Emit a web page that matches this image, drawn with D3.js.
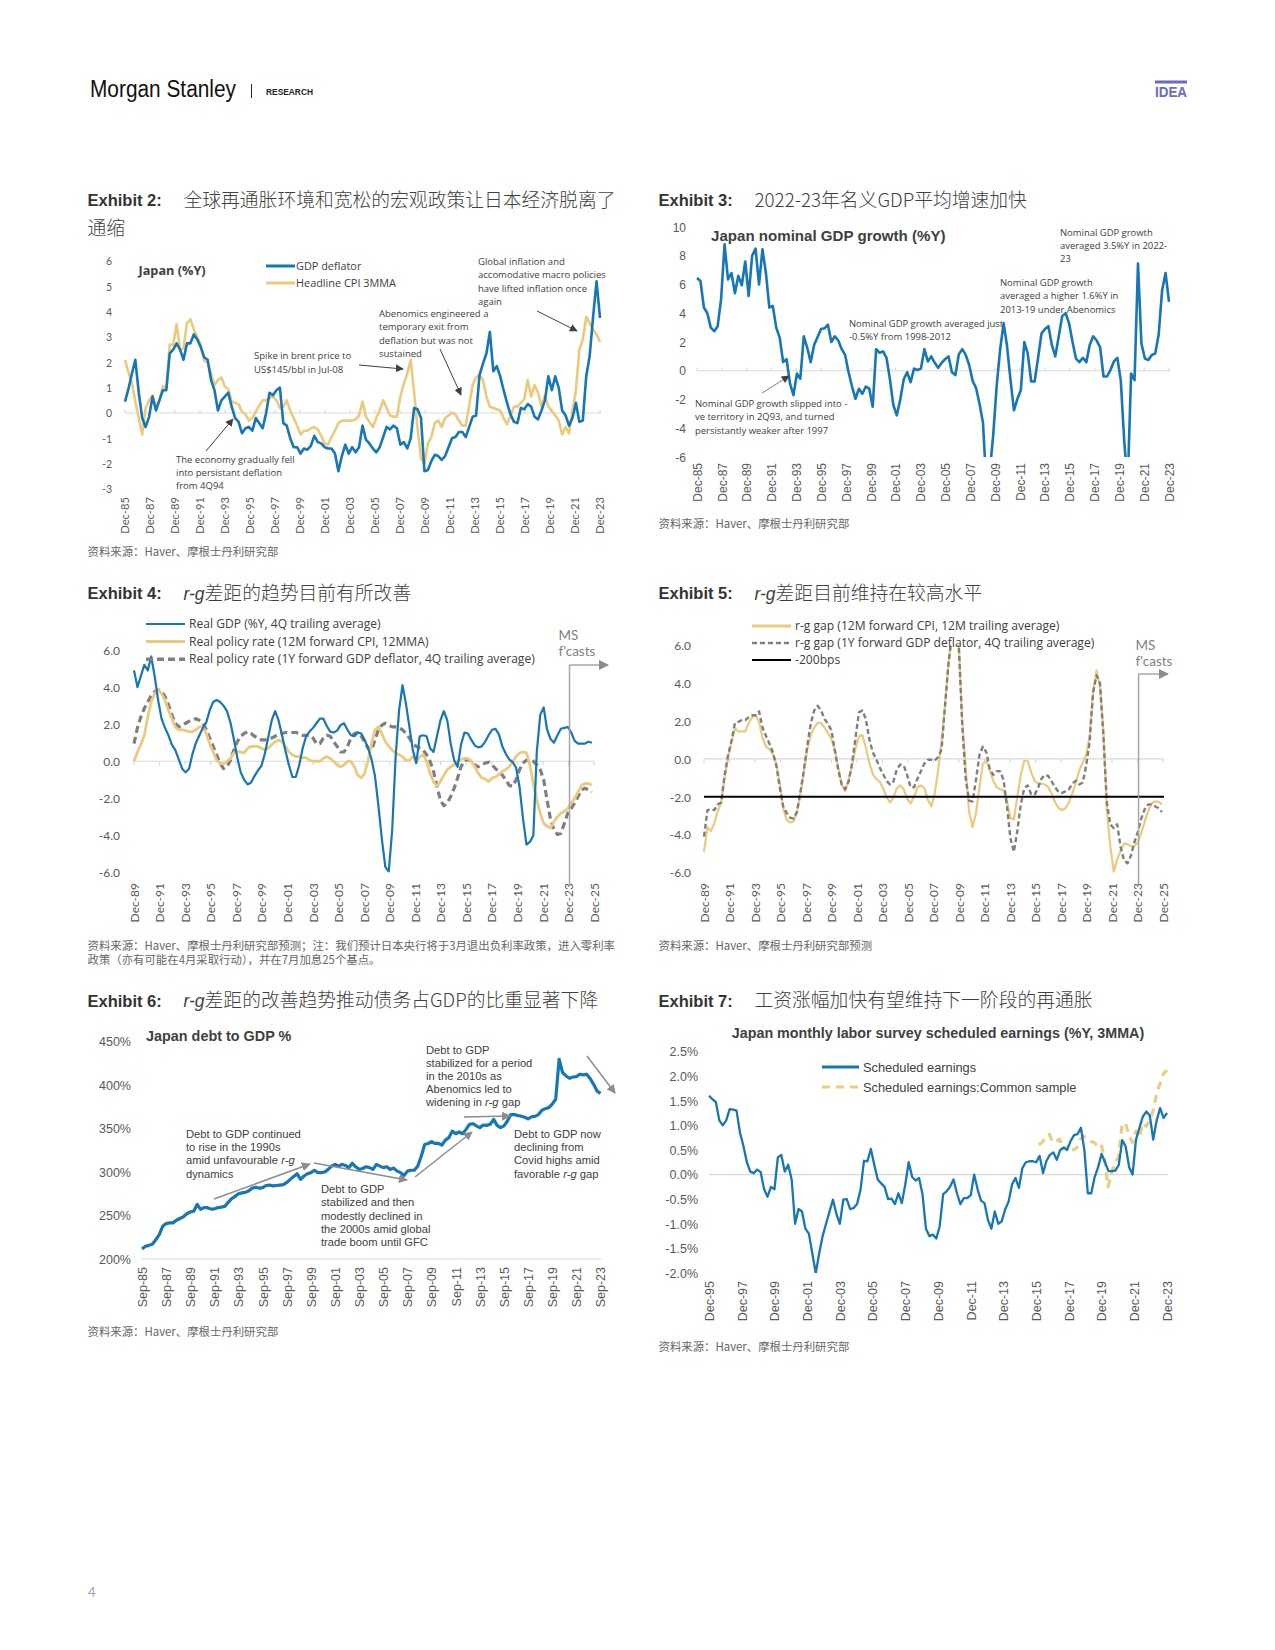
<!DOCTYPE html>
<html><head><meta charset="utf-8">
<script src="https://cdn.jsdelivr.net/npm/d3@7"></script>
<style>body{margin:0;background:#fff}svg{display:block}</style>
</head><body>
<svg id="page" width="1275" height="1650"></svg>
<script>
// ---------------- DATA ----------------
// Exhibit 2: GDP deflator (%Y) and headline CPI 3MMA (%Y), Dec-85 .. Dec-23
const ex2Start = "1985-12", ex2End = "2023-12";
const ex2Deflator = [0.45,0.95,1.55,2.1,0.8,-0.2,-0.55,-0.15,0.65,0.1,
0.5,0.9,0.9,2.35,2.5,2.75,2.5,2.1,2.75,2.75,
3.1,2.9,2.6,2.2,2.1,1.3,0.9,0.1,0.5,0.65,
0.8,0.25,-0.2,-0.35,-0.8,-0.6,-0.55,-0.7,-0.2,-0.4,
-0.6,0,0.8,0.7,0.9,1.0,-0.4,-0.5,-1.0,-1.35,
-1.35,-1.6,-1.4,-1.45,-1.3,-0.9,-1.15,-1.2,-1.35,-1.4,
-1.4,-1.6,-2.3,-1.7,-1.25,-1.6,-1.35,-1.55,-1.35,-0.5,
-1.05,-1.2,-1.4,-1.55,-1.35,-0.95,-0.55,-0.65,-0.5,-0.6,
-1.25,-1.15,-1.4,-1.0,0.2,0.15,-0.2,-2.3,-2.25,-1.9,
-1.65,-1.7,-1.85,-1.7,-1.35,-1.0,-0.95,-0.75,-0.75,-0.95,
-0.55,-0.15,-0.1,1.5,1.95,2.35,3.2,1.65,1.85,1.45,
0.9,0.4,-0.05,-0.35,-0.4,0.2,0.15,0.35,0.25,-0.15,
-0.25,0.1,0.5,1.45,0.9,1.45,1.0,0.1,-0.1,-0.5,
-0.2,0.4,-0.35,-0.3,1.45,2.25,3.8,5.2,3.75];
const ex2Cpi = [2.1,1.6,1.2,0.45,-0.2,-0.85,0.2,0.5,0.7,0.2,
0.5,1.05,1.0,2.7,2.7,3.5,2.5,2.55,3.55,3.7,
3.3,3.0,2.7,2.05,2.0,1.55,1.1,1.3,1.4,1.05,
0.95,0.45,0.4,0.35,0.05,-0.05,-0.3,-0.2,0.05,0.3,
0.5,0.5,0.6,0.65,0.5,0.2,0.25,0.5,0.1,-0.2,
-0.5,-0.85,-0.7,-0.7,-0.6,-0.55,-0.65,-0.9,-1.2,-1.25,
-0.95,-0.7,-0.4,-0.3,-0.3,-0.3,-0.3,-0.25,-0.1,0.45,
-0.15,-0.35,-0.55,-0.2,0.1,0.5,0.2,-0.1,-0.15,-0.15,
0.65,1.15,1.55,2.1,0.8,-0.6,-1.8,-2.0,-1.2,-0.95,
-0.4,-0.3,-0.55,-0.2,-0.1,0.0,-0.05,-0.3,-0.5,-0.5,
0.3,1.1,1.4,1.5,1.3,0.65,0.25,0.2,0.15,0.1,
-0.2,-0.45,-0.1,0.25,0.25,0.4,0.55,1.3,0.65,1.1,
0.8,0.25,0.7,0.25,0.1,-0.1,-0.3,-0.85,-0.55,-0.8,
0.1,0.9,2.5,2.9,3.8,3.55,3.3,3.1,2.8];
const ex2YTicks = [6,5,4,3,2,1,0,-1,-2,-3];
const ex2XTicks = ["Dec-85","Dec-87","Dec-89","Dec-91","Dec-93","Dec-95","Dec-97","Dec-99","Dec-01","Dec-03","Dec-05","Dec-07","Dec-09","Dec-11","Dec-13","Dec-15","Dec-17","Dec-19","Dec-21","Dec-23"];

// Exhibit 3: Japan nominal GDP growth (%Y)
const ex3Start = "1985-12", ex3End = "2023-12";
const ex3Ngdp = [6.45,6.25,4.4,4.0,3.0,2.75,3.1,5.0,8.8,6.35,
6.8,5.4,6.6,5.95,7.6,5.2,8.0,8.5,6.0,8.45,
6.8,4.4,4.5,3.0,2.3,0.6,0.8,-0.9,-1.7,-0.2,
-0.55,2.4,1.6,0.6,1.8,2.35,2.9,2.95,3.2,2.0,
2.4,2.1,1.5,1.1,-0.1,-1.1,-1.95,-1.25,-1.6,-1.1,
-1.25,-2.5,1.5,1.25,1.35,0.9,-0.6,-2.4,-3.1,-2.0,
-0.6,-0.1,-0.8,0.15,0.05,0.15,1.5,0.65,1.0,0.55,
0.2,0.55,0.8,1.0,-0.1,-0.3,1.15,1.5,1.1,0.4,
-0.7,-1.2,-2.3,-3.6,-8,-7,-4.4,-1.0,1.5,3.3,
1.7,-0.65,-2.75,-1.95,-1.35,2.0,1.2,-0.75,-0.75,0.9,
2.6,2.9,3.1,1.8,1.0,2.4,3.8,4.0,3.3,2.0,
0.85,0.6,0.9,0.6,1.8,2.4,2.1,1.65,-0.4,-0.4,
0.05,0.65,0.9,-0.65,-4.85,-8,-0.2,-0.65,7.45,1.9,
0.85,0.75,1.1,1.2,2.5,5.6,6.8,4.8];
const ex3YTicks = [10,8,6,4,2,0,-2,-4,-6];
const ex3XTicks = ex2XTicks;

// Exhibit 4: real GDP and real policy rates
const ex4Start = "1989-12", ex4End = "2025-10";
const ex4RealGdp = [4.9,4.0,4.6,5.2,4.9,5.65,4.6,3.3,2.3,1.8,
1.4,0.9,0.6,0.1,-0.4,-0.6,-0.4,0.4,1.0,1.4,
1.8,2.1,2.75,3.2,3.3,3.2,3.0,2.7,2.1,1.2,
0.2,-0.6,-1.0,-1.25,-1.15,-0.8,-0.5,-0.25,0.4,1.3,
2.2,2.7,2.2,1.4,0.55,-0.2,-0.85,-0.85,-0.2,0.7,
1.35,1.6,1.8,2.05,2.3,2.3,1.9,1.6,1.55,1.65,
1.95,2.05,1.7,1.4,1.35,1.55,1.5,1.15,0.7,0.1,
-0.8,-2.4,-4.2,-5.7,-5.95,-3.7,0.25,2.75,4.1,3.1,
1.85,0.6,-0.1,1.35,1.4,1.35,0.7,0.5,1.35,2.2,
2.7,2.2,0.95,0.05,-0.3,0.9,1.55,1.5,1.15,0.85,
0.75,0.8,1.05,1.4,1.7,1.75,1.45,0.8,0.4,0.1,
-0.05,-0.35,-1.4,-3.1,-4.5,-4.35,-4.0,0.5,2.5,2.9,
1.7,1.2,1.0,1.4,1.75,1.8,1.85,1.55,1.1,0.95,
0.95,0.95,1.05,1.0];
const ex4RateCpi = [0,0.5,0.9,1.4,2.4,3.2,3.65,3.85,3.65,3.3,
2.75,2.3,1.85,1.7,1.7,1.65,1.6,1.6,1.7,1.85,
1.85,1.5,0.95,0.5,0.05,-0.1,-0.15,0,0.15,0.45,
0.5,0.5,0.45,0.7,0.8,0.8,0.8,0.7,0.6,0.7,
0.9,1.05,1.15,1.05,0.8,0.5,0.35,0.25,0.25,0.2,
0.2,0.05,0,0,0,0.15,0.25,0.15,0,-0.2,
-0.3,-0.2,0,0,-0.3,-0.75,-0.9,-0.65,0.05,0.95,
1.7,1.85,1.5,1.05,0.8,0.6,0.45,0.35,0.25,0.05,
0.05,0.25,0,0.25,0.35,0,-0.65,-1.1,-1.35,-1.1,
-0.75,-0.45,-0.3,-0.2,0,0.1,0.15,0.15,0,-0.3,
-0.65,-0.9,-0.95,-1.1,-0.9,-0.85,-0.7,-0.55,-0.45,-0.3,
0,0.25,0.45,0.5,0.45,-0.2,-1.2,-2.1,-2.8,-3.35,
-3.5,-3.6,-3.25,-3.0,-2.8,-2.7,-2.55,-2.25,-2.0,-1.65,
-1.3,-1.2,-1.2,-1.3];
const ex4RateDefl = [0.95,1.8,2.4,2.85,3.2,3.55,3.75,3.85,3.75,3.5,
3.05,2.5,2.05,1.85,1.95,2.05,2.15,2.2,2.3,2.2,
2.05,1.7,1.25,0.8,0.35,-0.1,-0.4,-0.3,0.05,0.6,
1.05,1.35,1.5,1.6,1.5,1.35,1.25,1.15,1.15,1.2,
1.25,1.35,1.45,1.5,1.55,1.55,1.55,1.55,1.5,1.4,
1.4,1.4,1.25,0.95,0.95,1.25,1.4,1.35,1.05,0.8,
0.5,0.5,0.8,1.25,1.5,1.55,1.35,1.05,0.7,0.6,
1.15,1.7,1.95,2.05,1.95,1.85,1.85,1.8,1.7,1.5,
1.25,0.95,0.8,0.7,0.6,0.35,0,-0.55,-1.35,-2.1,
-2.4,-2.25,-1.9,-1.45,-0.9,-0.3,0.05,0.1,0,-0.2,
-0.3,-0.2,-0.1,-0.05,-0.2,-0.4,-0.55,-0.75,-1.0,-1.3,
-1.35,-1.0,-0.45,-0.1,0.05,0.1,0,-0.2,-0.45,-1.0,
-2.1,-3.15,-3.7,-3.95,-3.9,-3.35,-2.8,-2.55,-2.25,-1.9,
-1.55,-1.45,-1.55,-1.65];
const ex45YTicks = [6,4,2,0,-2,-4,-6];
const ex45XTicks = ["Dec-89","Dec-91","Dec-93","Dec-95","Dec-97","Dec-99","Dec-01","Dec-03","Dec-05","Dec-07","Dec-09","Dec-11","Dec-13","Dec-15","Dec-17","Dec-19","Dec-21","Dec-23","Dec-25"];
const forecastStart = "2024-01";

// Exhibit 5: r-g gaps
const ex5Start = "1989-12", ex5End = "2025-11";
const ex5GapCpi = [-4.9,-3.6,-3.8,-3.4,-2.75,-2.3,-1.0,0.1,0.9,1.6,
1.45,1.45,1.45,1.9,2.2,2.3,1.95,1.1,0.65,0.5,
0.25,-0.25,-1.3,-2.6,-3.2,-3.35,-3.3,-2.8,-1.85,-0.7,
0.5,1.25,1.65,1.9,1.9,1.65,1.35,1.05,0.45,-0.45,
-1.35,-1.7,-1.1,-0.35,0.55,1.2,1.25,0.6,-0.2,-0.8,
-1.05,-1.2,-1.55,-2.0,-2.3,-2.05,-1.55,-1.4,-1.6,-2.1,
-2.35,-2.0,-1.5,-1.4,-1.55,-2.15,-2.5,-1.85,-0.6,0.85,
2.8,5.0,6.8,6.8,6.0,2.0,-0.5,-2.8,-3.6,-2.85,
-1.5,-0.25,-0.1,-0.6,-1.15,-1.5,-1.6,-1.65,-2.25,-3.1,
-3.2,-2.0,-0.85,-0.1,-0.1,-0.7,-1.15,-1.3,-1.3,-1.35,
-1.5,-1.85,-2.3,-2.6,-2.7,-2.6,-2.3,-1.8,-1.25,-0.6,
-0.2,0.2,1.2,3.5,4.65,3.85,1.5,-2.7,-4.6,-5.95,
-5.3,-4.85,-4.45,-4.5,-4.6,-4.6,-4.4,-3.9,-3.3,-2.75,
-2.35,-2.25,-2.25,-2.4];
const ex5GapDefl = [-4.1,-2.7,-2.65,-2.7,-2.4,-2.3,-0.85,0.2,0.95,1.9,
1.95,2.05,2.05,2.2,2.3,2.3,2.5,1.65,1.2,0.8,
0.35,-0.35,-1.5,-2.5,-2.85,-3.1,-3.15,-2.8,-1.75,-0.6,
0.7,1.85,2.55,2.8,2.55,2.1,1.85,1.5,0.45,-0.6,
-1.35,-1.6,-1.2,-0.25,1.1,2.45,2.55,2.1,1.05,0.35,
0.0,-0.45,-0.8,-1.15,-1.35,-1.2,-0.55,-0.3,-0.35,-0.85,
-1.5,-1.5,-1.05,-0.65,-0.25,-0.05,-0.05,-0.1,0.1,0.5,
2.8,5.0,6.5,6.5,6.0,1.8,-1.05,-2.2,-2.25,-1.1,
0.2,0.65,0.35,-0.55,-0.85,-0.65,-0.65,-1.1,-2.5,-4.2,
-4.9,-3.8,-2.4,-1.55,-1.4,-1.85,-1.9,-1.55,-1.05,-0.85,
-0.9,-1.2,-1.5,-1.75,-1.8,-1.7,-1.6,-1.3,-1.15,-1.35,
-1.25,-0.35,0.9,3.5,4.4,4.0,1.2,-2.3,-3.45,-3.65,
-3.45,-4.65,-5.35,-5.5,-5.1,-4.4,-3.85,-3.15,-2.65,-2.4,
-2.4,-2.5,-2.6,-2.8];
const ex5Threshold = -2.0;

// Exhibit 6: Japan debt to GDP %
const ex6Start = "1985-09", ex6End = "2023-09";
const ex6Debt = [211.5,214.6,215.7,217,222,228,237.6,240.7,241.5,241.5,
244.5,246.5,248.5,252,254,255,262.7,257,259,259,
257.3,257.7,259,259.6,260.5,265,269.3,272,275,276,
276.5,278.5,281.5,282.5,281.4,282,284.5,285,284,284.5,
285,285.5,288,291.5,294.8,298,291.5,295.4,298,299.3,
302,299.3,299.3,300,303,306.8,308.8,306.8,308.8,307.5,
305,310,306,303,304,306,305,303,308.8,306.8,
305,306,303,304.5,301,299.3,296,301,302,302,
306.8,318,331.7,332.8,334.8,332.8,332.8,331,336.7,339.5,
347,344,346,344,349,354.8,355.5,353,351,354,
353.6,354.8,360.5,353.6,351,353,358.6,366,366,365,
364,363,361,363.5,364,366,371,372.8,374,378,
383.6,429.6,414.3,410.4,407.7,409.2,409.6,412.4,411.6,412.4,
407.3,400.8,393,390.4];
const ex6YTicks = [450,400,350,300,250,200];
const ex6XTicks = ["Sep-85","Sep-87","Sep-89","Sep-91","Sep-93","Sep-95","Sep-97","Sep-99","Sep-01","Sep-03","Sep-05","Sep-07","Sep-09","Sep-11","Sep-13","Sep-15","Sep-17","Sep-19","Sep-21","Sep-23"];

// Exhibit 7: scheduled earnings (%Y, 3MMA)
const ex7Start = "1995-12", ex7End = "2023-12";
const ex7Sched = [1.6,1.53,1.47,1.1,1.0,1.1,1.33,1.32,1.3,0.85,
0.58,0.25,0.06,0.03,0.1,0.05,-0.3,-0.45,-0.25,-0.3,
0.35,0.4,0.06,0.2,-0.1,-1.0,-0.7,-0.75,-1.1,-1.2,
-1.6,-2.0,-1.6,-1.25,-1.0,-0.75,-0.51,-0.8,-1.0,-0.51,
-0.5,-0.7,-0.68,-0.6,-0.31,0.28,0.27,0.52,0.2,-0.1,
-0.18,-0.25,-0.5,-0.49,-0.6,-0.38,-0.58,-0.2,0.25,-0.05,
-0.12,-0.07,-0.4,-1.1,-1.25,-1.22,-1.3,-1.05,-0.4,-0.34,
-0.25,-0.1,-0.38,-0.6,-0.48,-0.48,-0.42,0,-0.3,-0.53,
-0.58,-0.92,-1.1,-0.75,-1.0,-0.95,-0.71,-0.55,-0.2,-0.07,
-0.27,0.13,0.25,0.27,0.27,0.25,0.38,0.03,0.28,0.4,
0.45,0.3,0.5,0.55,0.5,0.68,0.8,0.82,0.95,0.5,
-0.38,-0.38,-0.05,0.15,0.42,0.25,0.07,0.07,0.08,0.2,
0.7,0.57,0.15,0.0,0.71,0.95,1.18,1.28,1.2,0.71,
1.1,1.35,1.15,1.25];
const ex7CommonStart = "2016-02", ex7CommonEnd = "2023-12";
const ex7Common = [0.6,0.66,0.75,0.82,0.65,0.67,0.72,0.52,0.55,0.62,
0.5,0.55,0.72,0.78,0.7,0.67,0.65,0.58,0.62,0.3,
-0.25,0.03,0.25,0.35,1.0,1.05,0.8,0.65,0.88,0.75,
1.05,0.98,1.1,1.3,1.65,1.85,2.05,2.12];
const ex7YTicks = [2.5,2.0,1.5,1.0,0.5,0.0,-0.5,-1.0,-1.5,-2.0];
const ex7XTicks = ["Dec-95","Dec-97","Dec-99","Dec-01","Dec-03","Dec-05","Dec-07","Dec-09","Dec-11","Dec-13","Dec-15","Dec-17","Dec-19","Dec-21","Dec-23"];

// ---------------- STYLE ----------------
const BLUE = "#1776b4", GOLD = "#ebca7d", GREY = "#7f7f7f", TXT = "#404040", AX = "#595959", GRID = "#d9d9d9";
const CAL = "Lato, 'Open Sans', sans-serif";
const OPS = "'Open Sans', Lato, sans-serif";
const ARI = "'Liberation Sans', Arial, sans-serif";
const CJK = "'Noto Sans CJK SC', sans-serif";

const svg = d3.select("#page");
const defs = svg.append("defs");
function marker(id, color, size) {
  defs.append("marker").attr("id", id).attr("viewBox", "0 0 10 10").attr("refX", 9).attr("refY", 5)
    .attr("markerUnits", "userSpaceOnUse").attr("markerWidth", size).attr("markerHeight", size).attr("orient", "auto")
    .append("path").attr("d", "M0,0L10,5L0,10z").attr("fill", color);
}
marker("arDark", "#404040", 8);
marker("arGrey", "#8c8c8c", 9);
marker("arMS", "#8c8c8c", 10);

function ym(s) { const [y, m] = s.split("-").map(Number); return y + (m - 1) / 12; }
function lab(s) { const [mo, yy] = s.split("-"); const y = +yy; const yr = y > 50 ? 1900 + y : 2000 + y; return yr + ({ Sep: 8, Dec: 11 })[mo] / 12; }
function series(vals, a, b) { const s = ym(a), e = ym(b), n = vals.length; return vals.map((v, i) => [s + i * (e - s) / (n - 1), v]); }

function text(x, y, str, o = {}) {
  const t = svg.append("text").attr("x", x).attr("y", y)
    .attr("font-family", o.ff || CAL).attr("font-size", o.fs || 10).attr("fill", o.fill || TXT)
    .attr("font-weight", o.fw || null).attr("text-anchor", o.anchor || null);
  str.split(/(\*[^*]+\*)/).forEach(p => {
    if (!p) return;
    if (p.startsWith("*")) t.append("tspan").attr("font-style", "italic").text(p.slice(1, -1));
    else t.append("tspan").text(p);
  });
  return t;
}
function lines(x, y0, dy, arr, o) { arr.forEach((s, i) => text(x, y0 + i * dy, s, o)); }
function arrow(x1, y1, x2, y2, color, w, mk) {
  svg.append("line").attr("x1", x1).attr("y1", y1).attr("x2", x2).attr("y2", y2)
    .attr("stroke", color).attr("stroke-width", w).attr("marker-end", `url(#${mk})`);
}
function title(x, yc, num, parts) {
  text(x, yc + 6, `Exhibit ${num}:`, { ff: ARI, fs: 16.5, fw: "bold", fill: "#333" });
  const t = svg.append("text").attr("x", x + 96).attr("y", yc + 6.5).attr("font-size", 18.8).attr("fill", TXT);
  parts.forEach(p => {
    const ts = t.append("tspan").text(p.t);
    if (p.i) ts.attr("font-family", ARI).attr("font-style", "italic").attr("font-size", 17.5);
    else ts.attr("font-family", CJK).attr("font-weight", 300);
  });
}
function source(x, yc, str) { text(x, yc + 4, str, { ff: CJK, fs: 11.4, fill: "#666" }); }

let clipN = 0;
function chart(o) {
  const g = svg.append("g");
  const x = d3.scaleLinear().domain([lab(o.xt[0]), lab(o.xt[o.xt.length - 1])]).range([o.xl, o.xr]);
  const y = d3.scaleLinear().domain(o.yd).range([o.yt, o.yb]);
  const ya = g.append("g").attr("transform", `translate(${o.ylx},0)`)
    .call(d3.axisLeft(y).tickValues(o.yv).tickFormat(o.yf).tickSize(0).tickPadding(0));
  ya.select(".domain").remove();
  ya.selectAll("text").attr("font-family", o.ff).attr("font-size", o.yfs).attr("fill", AX).attr("dy", "0.35em");
  const xa = g.append("g").attr("transform", `translate(0,${o.xly})`)
    .call(d3.axisBottom(x).tickValues(o.xt.map(lab)).tickFormat((d, i) => o.xt[i]).tickSize(0));
  xa.select(".domain").remove();
  xa.selectAll("text").attr("transform", "rotate(-90)").attr("text-anchor", "end").attr("x", 0).attr("y", 0)
    .attr("dy", "0.35em").attr("font-family", o.ff).attr("font-size", o.xfs).attr("fill", AX);
  const by = y(o.base);
  g.append("line").attr("x1", o.xl).attr("x2", o.xr + 1).attr("y1", by).attr("y2", by).attr("stroke", GRID).attr("stroke-width", 1.2);
  if (o.ticks) {
    g.selectAll(".bt").data(o.xt).join("line").attr("x1", d => x(lab(d))).attr("x2", d => x(lab(d)))
      .attr("y1", by).attr("y2", by + o.ticks).attr("stroke", GRID).attr("stroke-width", 1.2);
  }
  const id = "clip" + (clipN++);
  defs.append("clipPath").attr("id", id).append("rect").attr("x", o.xl - 5).attr("y", o.yt).attr("width", o.xr - o.xl + 10).attr("height", o.yb - o.yt);
  const lg = g.append("g").attr("clip-path", `url(#${id})`);
  const line = d3.line().x(d => x(d[0])).y(d => y(d[1]));
  o.series.forEach(s => {
    lg.append("path").datum(s.data).attr("d", line).attr("fill", "none").attr("stroke", s.color)
      .attr("stroke-width", s.w).attr("stroke-dasharray", s.dash || null).attr("stroke-linejoin", "round");
  });
  return { x, y, g };
}

// ---------------- HEADER ----------------
text(90, 96.5, "Morgan Stanley", { ff: "'Liberation Sans Narrow', 'Liberation Sans', sans-serif", fs: 23, fill: "#111" })
  .attr("textLength", 146).attr("lengthAdjust", "spacingAndGlyphs");
svg.append("line").attr("x1", 251.5).attr("x2", 251.5).attr("y1", 84).attr("y2", 98).attr("stroke", "#222").attr("stroke-width", 1);
text(266, 95, "RESEARCH", { ff: ARI, fs: 9, fw: "bold", fill: "#222" }).attr("textLength", 47).attr("lengthAdjust", "spacingAndGlyphs");
svg.append("rect").attr("x", 1155).attr("y", 80.5).attr("width", 32).attr("height", 3).attr("fill", "#6a6ac4");
text(1155, 97, "IDEA", { ff: "'Liberation Sans Narrow', 'Liberation Sans', sans-serif", fs: 14.5, fw: "bold", fill: "#6a6ac4" })
  .attr("textLength", 32).attr("lengthAdjust", "spacingAndGlyphs");
text(88, 1597, "4", { ff: CAL, fs: 13, fill: "#93a3c6" });

// ---------------- EXHIBIT 2 ----------------
title(87.5, 200, 2, [{ t: "全球再通胀环境和宽松的宏观政策让日本经济脱离了" }]);
text(87.5, 234.5, "通缩", { ff: CJK, fs: 18.8, fill: TXT }).attr("font-weight", 300);
chart({
  xt: ex2XTicks, xl: 125, xr: 600, yd: [6, -3], yt: 261, yb: 489, yv: ex2YTicks, yf: d => String(d),
  ylx: 112, xly: 497, ff: CAL, yfs: 10.5, xfs: 11.2, base: 0, ticks: -3,
  series: [
    { data: series(ex2Cpi, ex2Start, ex2End), color: GOLD, w: 2.6 },
    { data: series(ex2Deflator, ex2Start, ex2End), color: BLUE, w: 2.6 }
  ]
});
text(138.5, 274.5, "Japan (%Y)", { ff: OPS, fs: 12.7, fw: "bold" });
svg.append("line").attr("x1", 266).attr("x2", 295).attr("y1", 266).attr("y2", 266).attr("stroke", BLUE).attr("stroke-width", 3);
svg.append("line").attr("x1", 266).attr("x2", 295).attr("y1", 283).attr("y2", 283).attr("stroke", GOLD).attr("stroke-width", 3);
text(296, 270, "GDP deflator", { ff: OPS, fs: 10.9 });
text(296, 287, "Headline CPI 3MMA", { ff: OPS, fs: 10.9 });
const a2 = { ff: OPS, fs: 9.5 };
lines(478, 265, 13.4, ["Global inflation and", "accomodative macro policies", "have lifted inflation once", "again"], a2);
lines(379, 317, 13.3, ["Abenomics engineered a", "temporary exit from", "deflation but was not", "sustained"], a2);
lines(254, 359, 13.6, ["Spike in brent price to", "US$145/bbl in Jul-08"], a2);
lines(176, 463, 12.9, ["The economy gradually fell", "into persistant deflation", "from 4Q94"], a2);
arrow(537, 311, 577, 331, "#404040", 1, "arDark");
arrow(440, 349, 461, 395, "#404040", 1, "arDark");
arrow(359, 365, 403, 369, "#404040", 1, "arDark");
arrow(206, 451, 233, 419, "#404040", 1, "arDark");
source(87.5, 551.5, "资料来源：Haver、摩根士丹利研究部");

// ---------------- EXHIBIT 3 ----------------
title(658.5, 200, 3, [{ t: "2022-23年名义GDP平均增速加快" }]);
chart({
  xt: ex3XTicks, xl: 697, xr: 1169, yd: [10, -6], yt: 227, yb: 457, yv: ex3YTicks, yf: d => String(d),
  ylx: 686, xly: 463, ff: ARI, yfs: 12, xfs: 12, base: 0, ticks: -3,
  series: [{ data: series(ex3Ngdp, ex3Start, ex3End), color: BLUE, w: 2.6 }]
});
text(711, 241, "Japan nominal GDP growth (%Y)", { ff: ARI, fs: 15.1, fw: "bold" });
const a3 = { ff: OPS, fs: 9.45 };
lines(1060, 236, 13, ["Nominal GDP growth", "averaged 3.5%Y in 2022-", "23"], a3);
lines(1000, 286, 13.3, ["Nominal GDP growth", "averaged a higher 1.6%Y in", "2013-19 under Abenomics"], a3);
lines(849, 327, 12.8, ["Nominal GDP growth averaged just", "-0.5%Y from 1998-2012"], a3);
lines(695, 407, 13.4, ["Nominal GDP growth slipped into -", "ve territory in 2Q93, and turned", "persistantly weaker after 1997"], a3);
arrow(762, 393, 789, 376, "#7f7f7f", 1, "arDark");
source(658.5, 523.5, "资料来源：Haver、摩根士丹利研究部");

// ---------------- EXHIBIT 4 ----------------
title(87.5, 593, 4, [{ t: "r-g", i: true }, { t: "差距的趋势目前有所改善" }]);
const c4 = chart({
  xt: ex45XTicks, xl: 134, xr: 594, yd: [6, -6], yt: 650, yb: 872.5, yv: ex45YTicks, yf: d => d.toFixed(1),
  ylx: 120, xly: 883, ff: CAL, yfs: 12, xfs: 12, base: 0, ticks: 4,
  series: [
    { data: series(ex4RateDefl, ex4Start, ex4End), color: GREY, w: 3.2, dash: "7,4" },
    { data: series(ex4RateCpi, ex4Start, ex4End), color: GOLD, w: 2.8 },
    { data: series(ex4RealGdp, ex4Start, ex4End), color: BLUE, w: 2.2 }
  ]
});
[[BLUE, 2.2, null, "Real GDP (%Y, 4Q trailing average)"],
 [GOLD, 3, null, "Real policy rate (12M forward CPI, 12MMA)"],
 [GREY, 3.5, "7,4", "Real policy rate (1Y forward GDP deflator, 4Q trailing average)"]].forEach((d, i) => {
  const yy = 624 + i * 17.6;
  svg.append("line").attr("x1", 146).attr("x2", 185).attr("y1", yy).attr("y2", yy).attr("stroke", d[0]).attr("stroke-width", d[1]).attr("stroke-dasharray", d[2]);
  text(189, yy + 4.2, d[3], { ff: OPS, fs: 12.1 });
});
{
  const fx = c4.x(ym(forecastStart));
  svg.append("line").attr("x1", fx).attr("x2", fx).attr("y1", 665).attr("y2", 886).attr("stroke", "#a6a6a6").attr("stroke-width", 1.5);
  arrow(fx, 665, 608, 665, "#a6a6a6", 1.5, "arMS");
  text(fx - 11, 639.5, "MS", { fs: 13.5, fill: "#808080" });
  text(fx - 11, 655.5, "f'casts", { fs: 13.5, fill: "#808080" });
}
source(87.5, 946, "资料来源：Haver、摩根士丹利研究部预测；注：我们预计日本央行将于3月退出负利率政策，进入零利率");
source(87.5, 959.5, "政策（亦有可能在4月采取行动），并在7月加息25个基点。");

// ---------------- EXHIBIT 5 ----------------
title(658.5, 593, 5, [{ t: "r-g", i: true }, { t: "差距目前维持在较高水平" }]);
const c5 = chart({
  xt: ex45XTicks, xl: 704, xr: 1163, yd: [6, -6], yt: 645, yb: 872.7, yv: ex45YTicks, yf: d => d.toFixed(1),
  ylx: 691, xly: 883, ff: CAL, yfs: 12, xfs: 12, base: 0, ticks: 4,
  series: [
    { data: series(ex5GapCpi, ex5Start, ex5End), color: GOLD, w: 2.2 },
    { data: series(ex5GapDefl, ex5Start, ex5End), color: GREY, w: 2.4, dash: "5,3" }
  ]
});
c5.g.append("line").attr("x1", c5.x(lab("Dec-89"))).attr("x2", c5.x(lab("Dec-25")) + 1)
  .attr("y1", c5.y(ex5Threshold)).attr("y2", c5.y(ex5Threshold)).attr("stroke", "#000").attr("stroke-width", 2);
[[GOLD, 3, null, "r-g gap (12M forward CPI, 12M trailing average)"],
 [GREY, 2.6, "5,3", "r-g gap (1Y forward GDP deflator, 4Q trailing average)"],
 ["#000", 2.2, null, "-200bps"]].forEach((d, i) => {
  const yy = 626 + i * 17;
  svg.append("line").attr("x1", 752).attr("x2", 791).attr("y1", yy).attr("y2", yy).attr("stroke", d[0]).attr("stroke-width", d[1]).attr("stroke-dasharray", d[2]);
  text(795, yy + 4.2, d[3], { ff: OPS, fs: 12.1 });
});
{
  const fx = c5.x(ym(forecastStart));
  svg.append("line").attr("x1", fx).attr("x2", fx).attr("y1", 674).attr("y2", 884).attr("stroke", "#a6a6a6").attr("stroke-width", 1.5);
  arrow(fx, 674, 1168, 674, "#a6a6a6", 1.5, "arMS");
  text(fx - 3, 650, "MS", { fs: 13.5, fill: "#808080" });
  text(fx - 3, 666, "f'casts", { fs: 13.5, fill: "#808080" });
}
source(658.5, 946, "资料来源：Haver、摩根士丹利研究部预测");

// ---------------- EXHIBIT 6 ----------------
title(87.5, 1000.5, 6, [{ t: "r-g", i: true }, { t: "差距的改善趋势推动债务占GDP的比重显著下降" }]);
chart({
  xt: ex6XTicks, xl: 142, xr: 600.5, yd: [450, 200], yt: 1041.5, yb: 1259, yv: ex6YTicks, yf: d => d + "%",
  ylx: 131, xly: 1267, ff: ARI, yfs: 12.5, xfs: 12.5, base: 200, ticks: 0,
  series: [{ data: series(ex6Debt, ex6Start, ex6End), color: BLUE, w: 3.2 }]
});
text(146, 1041, "Japan debt to GDP %", { ff: ARI, fs: 14.4, fw: "bold" });
const a6 = { ff: ARI, fs: 11.2 };
lines(186, 1138, 13.2, ["Debt to GDP continued", "to rise in the 1990s", "amid unfavourable *r-g*", "dynamics"], a6);
lines(321, 1193, 13.3, ["Debt to GDP", "stabilized and then", "modestly declined in", "the 2000s amid global", "trade boom until GFC"], a6);
lines(426, 1054, 13, ["Debt to GDP", "stabilized for a period", "in the 2010s as", "Abenomics led to", "widening in *r-g* gap"], a6);
lines(514, 1138, 13.2, ["Debt to GDP now", "declining from", "Covid highs amid", "favorable *r-g* gap"], a6);
arrow(214, 1199, 310, 1164, "#8c8c8c", 1.5, "arGrey");
arrow(314, 1163, 407, 1180, "#8c8c8c", 1.5, "arGrey");
arrow(415, 1177, 472, 1132, "#8c8c8c", 1.5, "arGrey");
arrow(464, 1117, 510, 1116, "#8c8c8c", 1.5, "arGrey");
arrow(587, 1056, 615, 1093, "#8c8c8c", 1.5, "arGrey");
source(87.5, 1331.5, "资料来源：Haver、摩根士丹利研究部");

// ---------------- EXHIBIT 7 ----------------
title(658.5, 1000.5, 7, [{ t: "工资涨幅加快有望维持下一阶段的再通胀" }]);
chart({
  xt: ex7XTicks, xl: 709, xr: 1167, yd: [2.5, -2.0], yt: 1051.5, yb: 1273, yv: ex7YTicks, yf: d => d.toFixed(1) + "%",
  ylx: 698, xly: 1281, ff: ARI, yfs: 12.5, xfs: 12.5, base: 0, ticks: 0,
  series: [
    { data: series(ex7Common, ex7CommonStart, ex7CommonEnd), color: "#edcd80", w: 3.2, dash: "8,6" },
    { data: series(ex7Sched, ex7Start, ex7End), color: BLUE, w: 2.3 }
  ]
});
text(938, 1038, "Japan monthly labor survey scheduled earnings (%Y, 3MMA)", { ff: ARI, fs: 14.3, fw: "bold", anchor: "middle" });
svg.append("line").attr("x1", 822).attr("x2", 859).attr("y1", 1067).attr("y2", 1067).attr("stroke", BLUE).attr("stroke-width", 3);
svg.append("line").attr("x1", 822).attr("x2", 859).attr("y1", 1087).attr("y2", 1087).attr("stroke", "#edcd80").attr("stroke-width", 3).attr("stroke-dasharray", "8,6");
text(863, 1071.5, "Scheduled earnings", { ff: ARI, fs: 12.8 });
text(863, 1091.5, "Scheduled earnings:Common sample", { ff: ARI, fs: 12.8 });
source(658.5, 1346.5, "资料来源：Haver、摩根士丹利研究部");
</script>
</body></html>
